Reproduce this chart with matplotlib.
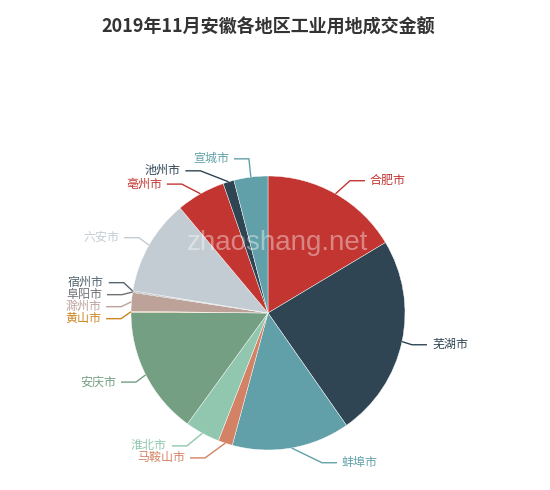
import numpy as np
import matplotlib
matplotlib.use("Agg")
import matplotlib.pyplot as plt

plt.rcParams['font.family'] = ['Noto Sans CJK SC', 'DejaVu Sans']

title = "2019年11月安徽各地区工业用地成交金额"
cities = ["合肥市", "芜湖市", "蚌埠市", "马鞍山市", "淮北市", "安庆市", "黄山市",
          "滁州市", "阜阳市", "宿州市", "六安市", "亳州市", "池州市", "宣城市"]
amounts = [16.4, 23.9, 13.9, 1.7, 4.1, 15.1, 0.1, 2.2, 0.1, 0.1, 11.3, 5.8, 1.3, 4.0]
palette = ["#c23531", "#2f4554", "#61a0a8", "#d48265", "#91c7ae", "#749f83",
           "#ca8622", "#bda29a", "#6e7074", "#546570", "#c4ccd3"]

W, H = 550, 490
fig = plt.figure(figsize=(W / 100, H / 100), dpi=100)
ax = fig.add_axes([0, 0, 1, 1])

cx, cy, R = 268, 313, 137
colors = [palette[i % len(palette)] for i in range(len(cities))]

# y axis is inverted (pixel coords), so start at -90 and go counterclockwise in data
wedges, _ = ax.pie(amounts, colors=colors, center=(cx, cy), radius=R,
                   startangle=-90, counterclock=True,
                   wedgeprops=dict(linewidth=0.3, edgecolor="white"))
ax.set_xlim(0, W)
ax.set_ylim(H, 0)
ax.set_aspect("equal")
ax.axis("off")

# echarts-like label lines: length 15, length2 15, text 5px past the line end
L1, L2, GAP, TEXT_H = 15, 15, 5, 12

items = []
for w, name, col in zip(wedges, cities, colors):
    a = np.deg2rad((w.theta1 + w.theta2) / 2)
    side = 1 if np.cos(a) >= 0 else -1
    x2 = cx + (R + L1) * np.cos(a)
    items.append({
        "name": name, "color": col, "side": side,
        "ex": cx + R * np.cos(a), "ey": cy + R * np.sin(a),
        "y": cy + (R + L1) * np.sin(a),
        "tx": x2 + side * (L2 + GAP),
    })


def adjust_side(lst, h):
    # same idea as echarts' pie label overlap handling
    lst.sort(key=lambda d: d["y"])
    n = len(lst)

    def shift_up(end, delta):
        for j in range(end, -1, -1):
            lst[j]["y"] -= delta
            if j > 0 and lst[j]["y"] > lst[j - 1]["y"] + h:
                break

    def shift_down(start, end, delta):
        for j in range(start, end):
            lst[j]["y"] += delta
            if j > start and j + 1 < end and lst[j + 1]["y"] > lst[j]["y"] + h:
                shift_up(j, delta / 2)
                return
        shift_up(end - 1, delta / 2)

    last_y = 0
    for i in range(n):
        delta = lst[i]["y"] - last_y
        if delta < 0:
            shift_down(i, n, -delta)
        last_y = lst[i]["y"] + h


for side in (1, -1):
    adjust_side([it for it in items if it["side"] == side], TEXT_H)

for it in items:
    side = it["side"]
    dy = abs(it["y"] - cy)
    if dy < R + L1:
        tx = cx + side * np.sqrt((R + L1 + L2) ** 2 - dy ** 2)
    else:
        tx = it["tx"]
    x3 = tx - side * GAP
    x2 = x3 - side * L2
    y = it["y"]
    ax.plot([it["ex"], x2, x3], [it["ey"], y, y],
            color=it["color"], linewidth=1, solid_capstyle="butt")
    ax.text(tx, y, it["name"], color=it["color"],
            fontsize=8.64, ha="left" if side == 1 else "right", va="center")

# watermark
ax.text(278, 243, "zhaoshang.net", fontsize=20, color="white", alpha=0.4,
        ha="center", va="center", family="Liberation Sans")

ax.text(268, 27, title, fontsize=13, fontweight="bold", color="#333333",
        ha="center", va="center")

fig.savefig("out.png", dpi=100, facecolor="white")
